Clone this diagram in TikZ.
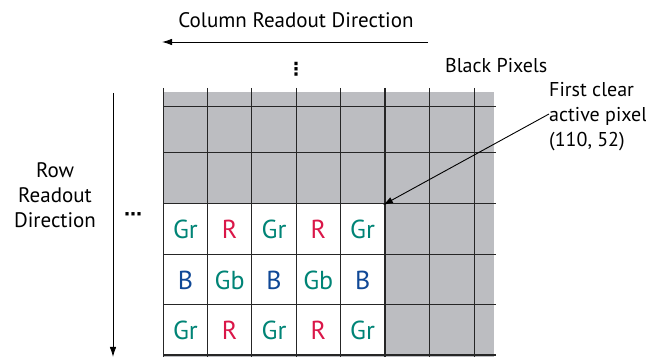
\documentclass[tikz,border=0pt]{standalone}
\usepackage{fontspec}
\setmainfont{PT Sans}
\newfontfamily\symfont{DejaVu Sans}
\usetikzlibrary{positioning,arrows.meta}
\definecolor{pixgray}{RGB}{188,189,193}
\definecolor{pixgreen}{RGB}{0,132,118}
\definecolor{pixred}{RGB}{218,22,72}
\definecolor{pixblue}{RGB}{16,72,150}
\begin{document}
\begin{tikzpicture}
   [
     x = 1pt, y = -1pt,
     every node/.style = {font=\fontsize{21}{25}\selectfont},
     caption/.style    = {inner sep=0pt, align=center},
     note/.style       = {inner sep=0pt, align=left, font=\fontsize{20}{25}\selectfont},
     dots/.style       = {inner sep=0pt, font=\symfont\bfseries\fontsize{18}{18}\selectfont},
     cell/.style       = {inner sep=0pt, font=\fontsize{26}{28}\selectfont},
     gr/.style         = {cell, text=pixgreen},
     gb/.style         = {cell, text=pixgreen},
     rd/.style         = {cell, text=pixred},
     bl/.style         = {cell, text=pixblue},
     gridline/.style   = {line width=1pt, black!85},
     border/.style     = {line width=1.8pt, black!85},
     pointer/.style    = {draw, line width=0.9pt, -{Latex[length=10pt,width=6.5pt]}}
   ]
    \useasboundingbox (0,0) rectangle (646,358);
    % black and active area
    \fill [pixgray] (163,92) rectangle (494,357);
    \fill [white] (163,204) rectangle (385,355);
    \foreach \gx in {163.3,207.7,251.8,296,340.3,429.3,474}
      \draw [gridline] (\gx,88) -- (\gx,357);
    \foreach \gy in {106.5,153,204,254.5,305}
      \draw [gridline] (163,\gy) -- (496,\gy);
    \draw [border] (384.7,88) -- (384.7,357);
    \draw [border] (163,355) -- (496,355);
    % pixel labels
    \foreach \lbl [count=\c] in {gr/Gr,rd/R,gr/Gr,rd/R,gr/Gr}
      \foreach \sty/\txt in \lbl
        \node [\sty] (top-\c) at (163.3+44.3*\c-22.2,229.5) {\txt};
    \foreach \lbl [count=\c] in {bl/B,gb/Gb,bl/B,gb/Gb,bl/B}
      \foreach \sty/\txt in \lbl
        \node [\sty] (mid-\c) at (163.3+44.3*\c-22.2,280) {\txt};
    \foreach \lbl [count=\c] in {gr/Gr,rd/R,gr/Gr,rd/R,gr/Gr}
      \foreach \sty/\txt in \lbl
        \node [\sty] (low-\c) at (163.3+44.3*\c-22.2,330.5) {\txt};
    % readout directions
    \node [caption] (colname) at (296,20) {Column Readout Direction};
    \coordinate (colstart) at (428,42);
    \coordinate (colend) at (162,42);
    \draw [pointer] (colstart) -- (colend);
    \node [dots] (coldots) at (296,69) {⋮};
    \node [caption] (rowname) at (55,195) {Row\\Readout\\Direction};
    \coordinate (rowstart) at (113,93);
    \coordinate (rowend) at (113,357);
    \draw [pointer] (rowstart) -- (rowend);
    \node [dots] (rowdots) at (133,217) {⋯};
    % notes
    \node [note, anchor=west] (black) at (445,66) {Black Pixels};
    \node [note, anchor=west] (firstclear) at (549,117) {First clear\\active pixel\\(110, 52)};
    \coordinate (corner) at (383,205);
    \draw [pointer] (firstclear.west) ++(0,-3) -- (corner);
\end{tikzpicture}
\end{document}
